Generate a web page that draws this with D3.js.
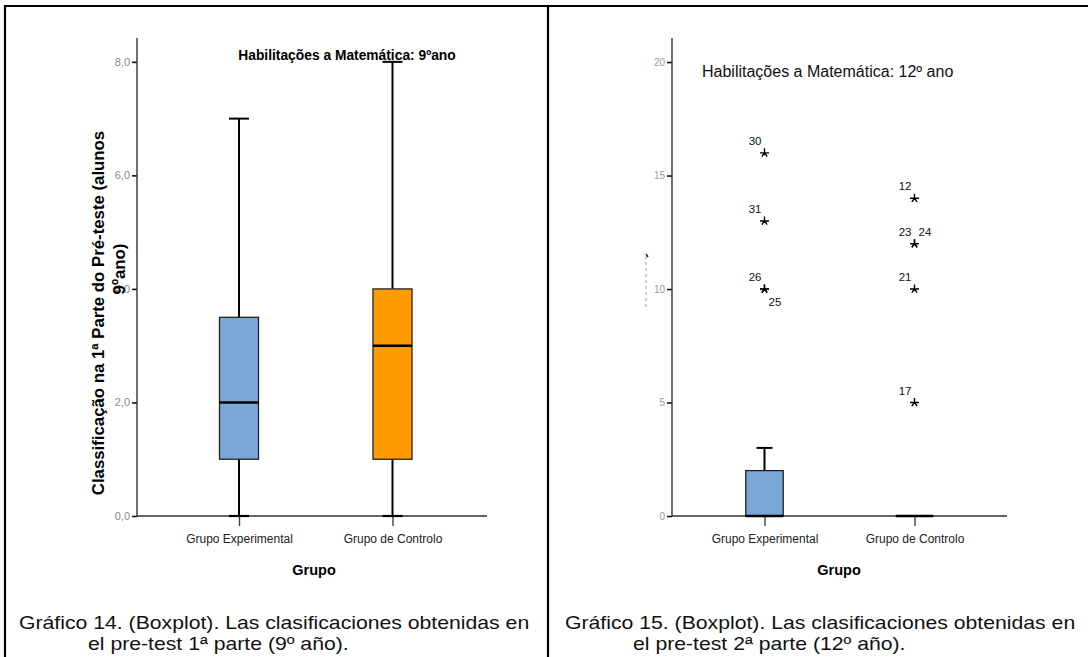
<!DOCTYPE html>
<html>
<head>
<meta charset="utf-8">
<script src="https://cdn.jsdelivr.net/npm/d3@7"></script>
<style>
  html, body { margin: 0; padding: 0; background: #fff; }
  svg { display: block; font-family: "Liberation Sans", Arial, sans-serif; }
</style>
</head>
<body>
<svg id="chart" width="1088" height="657"></svg>
<script>
// ---- data ----
const groups = ["Grupo Experimental", "Grupo de Controlo"];
const groupColors = ["#7aa8d6", "#ff9a00"];

// 9º ano: [min, Q1, median, Q3, max] per group
const stats9 = [
  [0, 1, 2, 3.5, 7],
  [0, 1, 3, 4, 8]
];
const ticks9 = [0, 2, 4, 6, 8];

// 12º ano: [min, Q1, median, Q3, max] per group
const stats12 = [
  [0, 0, 0, 2, 3],
  [0, 0, 0, 0, 0]
];
const ticks12 = [0, 5, 10, 15, 20];

// extreme values (12º ano): group index, value, case label
const extremeGroup = [0, 0, 0, 0, 1, 1, 1, 1, 1];
const extremeValue = [16, 13, 10, 10, 14, 12, 12, 10, 5];
const extremeCase  = ["30", "31", "26", "25", "12", "23", "24", "21", "17"];

const svg = d3.select("#chart");
const comma = d3.formatLocale({ decimal: ",", thousands: ".", grouping: [3], currency: ["", "€"] });

// ---- panel frame ----
const frame = svg.append("g").attr("stroke", "#000").attr("stroke-width", 2.2);
frame.append("line").attr("x1", 4).attr("x2", 1088).attr("y1", 6).attr("y2", 6);
frame.append("line").attr("x1", 5).attr("x2", 5).attr("y1", 5).attr("y2", 657);
frame.append("line").attr("x1", 548).attr("x2", 548).attr("y1", 5).attr("y2", 657);

function drawPanel(opt) {
  const g = svg.append("g");
  const y = d3.scaleLinear().domain([0, opt.yMax]).range([516, 38]);
  const x = d3.scalePoint().domain(groups).range(opt.catRange);

  // y axis
  const yAxis = d3.axisLeft(y).tickValues(opt.ticks).tickSize(5).tickPadding(2)
    .tickFormat(opt.fmt);
  const ya = g.append("g").attr("transform", `translate(${opt.axisX},0)`).call(yAxis);
  ya.select(".domain").remove();
  ya.selectAll(".tick line").attr("stroke", "#111").attr("stroke-width", 1.6);
  ya.selectAll(".tick text").attr("fill", opt.tickColor).attr("font-size", opt.tickSize)
    .attr("font-family", "'Liberation Sans', Arial, sans-serif");
  g.append("line").attr("x1", opt.axisX).attr("x2", opt.axisX)
    .attr("y1", 38).attr("y2", 516.5).attr("stroke", "#333").attr("stroke-width", 1.4);

  // x axis
  const xAxis = d3.axisBottom(x).tickSize(10).tickPadding(8);
  const xa = g.append("g").attr("transform", "translate(0,516)").call(xAxis);
  xa.select(".domain").remove();
  xa.selectAll(".tick line").attr("stroke", "#444").attr("stroke-width", 1.4);
  xa.selectAll(".tick text").attr("fill", "#222").attr("font-size", 12)
    .attr("font-family", "'Liberation Sans', Arial, sans-serif");
  g.append("line").attr("x1", opt.axisX).attr("x2", opt.axisEnd)
    .attr("y1", 516).attr("y2", 516).attr("stroke", "#333").attr("stroke-width", 1.4);

  // boxes
  opt.stats.forEach((s, i) => {
    const cx = x(groups[i]);
    const bw = opt.boxW, cw = opt.capW;
    const bg = g.append("g");
    if (s[4] > s[3]) {
      bg.append("line").attr("x1", cx).attr("x2", cx).attr("y1", y(s[3])).attr("y2", y(s[4]))
        .attr("stroke", "#000").attr("stroke-width", 2);
      bg.append("line").attr("x1", cx - cw / 2).attr("x2", cx + cw / 2).attr("y1", y(s[4])).attr("y2", y(s[4]))
        .attr("stroke", "#000").attr("stroke-width", 2);
    }
    if (s[1] > s[0]) {
      bg.append("line").attr("x1", cx).attr("x2", cx).attr("y1", y(s[0])).attr("y2", y(s[1]))
        .attr("stroke", "#000").attr("stroke-width", 2);
      bg.append("line").attr("x1", cx - cw / 2).attr("x2", cx + cw / 2).attr("y1", y(s[0])).attr("y2", y(s[0]))
        .attr("stroke", "#000").attr("stroke-width", 2.2);
    }
    if (s[3] > s[1]) {
      bg.append("rect").attr("x", cx - bw / 2).attr("width", bw)
        .attr("y", y(s[3])).attr("height", y(s[1]) - y(s[3]))
        .attr("fill", groupColors[i]).attr("stroke", "#222").attr("stroke-width", 1.3);
    }
    bg.append("line").attr("x1", cx - bw / 2).attr("x2", cx + bw / 2)
      .attr("y1", y(s[2])).attr("y2", y(s[2]))
      .attr("stroke", "#000").attr("stroke-width", 2.6);
  });

  return { g, x, y };
}

// ---- 9º ano ----
const p1 = drawPanel({
  yMax: 8.42, ticks: ticks9, fmt: comma.format(".1f"),
  axisX: 137, axisEnd: 487, catRange: [239, 392.5],
  stats: stats9, boxW: 39, capW: 20, tickColor: "#8a8a8a", tickSize: 11
});
p1.g.append("text").attr("x", 347).attr("y", 60).attr("text-anchor", "middle")
  .attr("font-size", 13.8).attr("font-weight", "bold").attr("fill", "#000")
  .text("Habilitações a Matemática: 9ºano");
p1.g.append("text").attr("transform", "translate(104,313) rotate(-90)")
  .attr("text-anchor", "middle").attr("font-size", 16.8).attr("font-weight", "bold")
  .text("Classificação na 1ª Parte do Pré-teste (alunos");
p1.g.append("text").attr("transform", "translate(125,269) rotate(-90)")
  .attr("text-anchor", "middle").attr("font-size", 16.8).attr("font-weight", "bold")
  .text("9ºano)");
p1.g.append("text").attr("x", 314).attr("y", 575).attr("text-anchor", "middle")
  .attr("font-size", 14.5).attr("font-weight", "bold").text("Grupo");

// ---- 12º ano ----
const p2 = drawPanel({
  yMax: 21.06, ticks: ticks12, fmt: d3.format("d"),
  axisX: 672, axisEnd: 1007, catRange: [764.5, 914.5],
  stats: stats12, boxW: 37.5, capW: 16, tickColor: "#9a9a9a", tickSize: 10
});
p2.g.append("text").attr("x", 702).attr("y", 77)
  .attr("font-size", 16).attr("fill", "#111")
  .text("Habilitações a Matemática: 12º ano");
p2.g.append("text").attr("x", 839).attr("y", 575).attr("text-anchor", "middle")
  .attr("font-size", 14.5).attr("font-weight", "bold").text("Grupo");

// clipped remnant of the y-axis title
p2.g.append("line").attr("x1", 646).attr("x2", 646).attr("y1", 256).attr("y2", 310)
  .attr("stroke", "#999").attr("stroke-width", 1).attr("stroke-dasharray", "3,3");
p2.g.append("line").attr("x1", 646).attr("x2", 648).attr("y1", 254).attr("y2", 257)
  .attr("stroke", "#222").attr("stroke-width", 1.4);

// extreme value markers
const starPath = r => {
  const a = Math.PI / 180;
  const arms = [-90, 0, 180, 54, 126];
  return arms.map(d => `M0,0L${(r * Math.cos(d * a)).toFixed(2)},${(r * Math.sin(d * a)).toFixed(2)}`).join("");
};
// label offsets per case so overlapping points stay readable
const labelDx = { "25": 4, "24": 4 };
const labelDy = { "25": 17, "24": -8 };
extremeValue.forEach((v, i) => {
  const cx = p2.x(groups[extremeGroup[i]]);
  const cy = p2.y(v);
  p2.g.append("path").attr("transform", `translate(${cx},${cy})`)
    .attr("d", starPath(4.5)).attr("stroke", "#000").attr("stroke-width", 1.4).attr("fill", "none");
  const c = extremeCase[i];
  const right = c in labelDx;
  p2.g.append("text")
    .attr("x", right ? cx + labelDx[c] : cx - 3)
    .attr("y", cy + (right ? labelDy[c] : -8))
    .attr("text-anchor", right ? "start" : "end")
    .attr("font-size", 11.5).attr("fill", "#111").text(c);
});

// ---- captions (wide face, tight leading) ----
const capStretch = 1.14;
const cap = svg.append("g").attr("font-size", 18.6).attr("fill", "#111");
[
  [19, 629, "Gráfico 14. (Boxplot). Las clasificaciones obtenidas en"],
  [88, 650, "el pre-test 1ª parte (9º año)."],
  [565, 629, "Gráfico 15. (Boxplot). Las clasificaciones obtenidas en"],
  [633, 650, "el pre-test 2ª parte (12º año)."]
].forEach(([cx, cy, t]) => {
  const el = cap.append("text").attr("x", cx).attr("y", cy).text(t);
  const w = el.node().getComputedTextLength();
  el.attr("textLength", (w * capStretch).toFixed(1)).attr("lengthAdjust", "spacingAndGlyphs");
});
</script>
</body>
</html>
